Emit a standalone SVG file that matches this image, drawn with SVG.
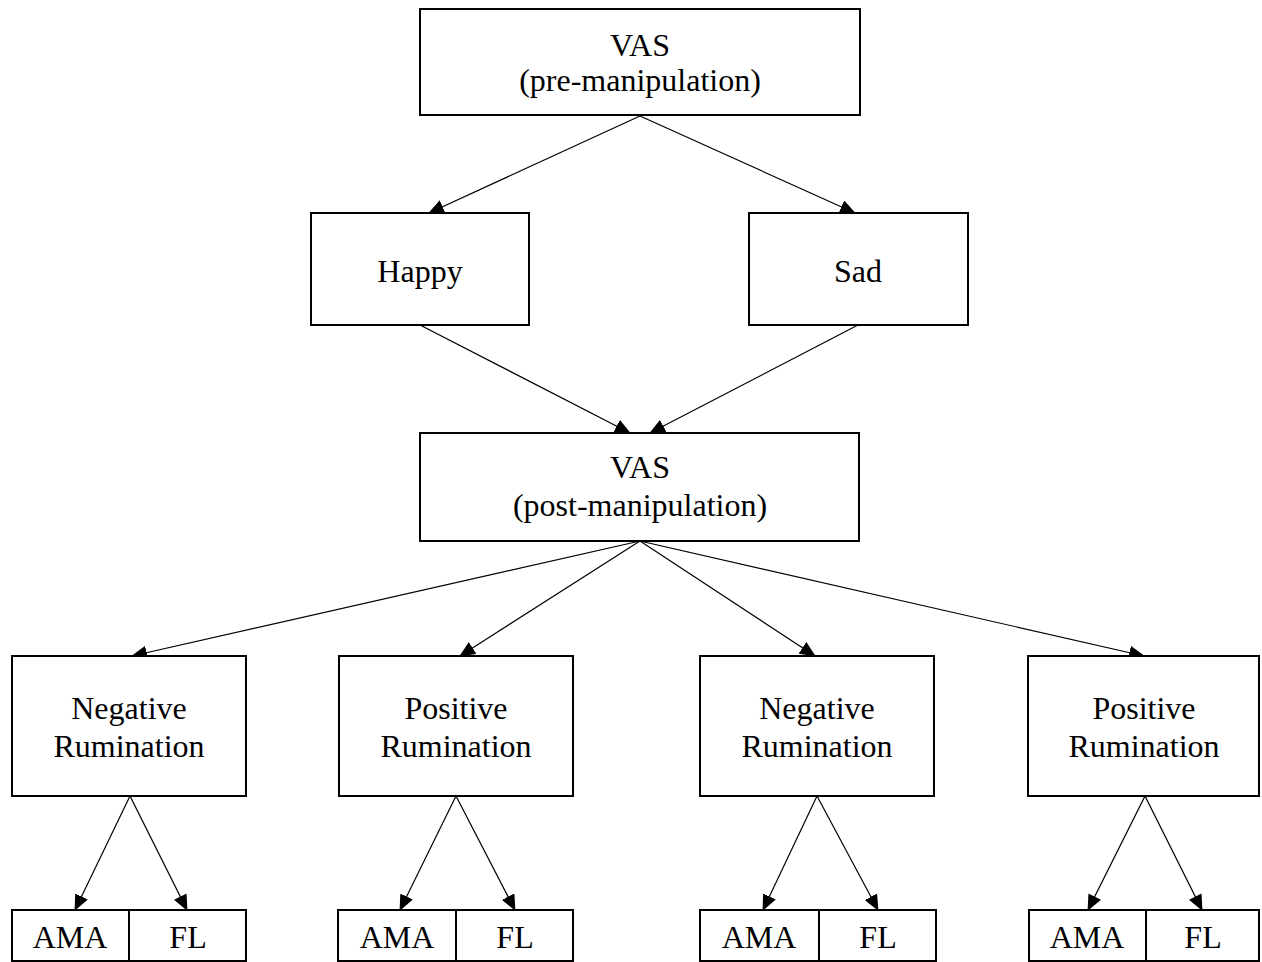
<svg xmlns="http://www.w3.org/2000/svg" width="1262" height="962" viewBox="0 0 1262 962">
<style>
.box{fill:#fff;stroke:#000;stroke-width:2}
.t{font-family:"Liberation Serif","Times New Roman",serif;font-size:32px;fill:#000;text-anchor:middle}
.c{stroke:#000;stroke-width:1.2;fill:none;marker-end:url(#ah)}
</style>
<defs>
<marker id="ah" markerWidth="16" markerHeight="14" refX="15" refY="7" orient="auto" markerUnits="userSpaceOnUse">
<path d="M0,0 L16,7 L0,14 Z" fill="#000"/>
</marker>
</defs>
<rect width="1262" height="962" fill="#fff"/>
<g id="connectors">
<line class="c" x1="640" y1="116" x2="429" y2="213"/>
<line class="c" x1="640" y1="116" x2="855" y2="213"/>
<line class="c" x1="420" y1="325" x2="630" y2="433"/>
<line class="c" x1="858" y1="325" x2="650" y2="433"/>
<line class="c" x1="640" y1="541" x2="132" y2="656"/>
<line class="c" x1="640" y1="541" x2="460" y2="656"/>
<line class="c" x1="640" y1="541" x2="815" y2="656"/>
<line class="c" x1="640" y1="541" x2="1144" y2="656"/>
<line class="c" x1="130" y1="796" x2="75" y2="910"/>
<line class="c" x1="130" y1="796" x2="187" y2="910"/>
<line class="c" x1="456" y1="796" x2="400" y2="910"/>
<line class="c" x1="456" y1="796" x2="515" y2="910"/>
<line class="c" x1="817" y1="796" x2="763" y2="910"/>
<line class="c" x1="817" y1="796" x2="878" y2="910"/>
<line class="c" x1="1145" y1="796" x2="1088" y2="910"/>
<line class="c" x1="1145" y1="796" x2="1202" y2="910"/>
</g>
<g id="vas-pre"><rect class="box" x="420" y="9" width="440" height="106"/><text class="t" x="640" y="56">VAS</text><text class="t" x="640" y="91">(pre-manipulation)</text></g>
<g id="happy"><rect class="box" x="311" y="213" width="218" height="112"/><text class="t" x="420" y="282">Happy</text></g>
<g id="sad"><rect class="box" x="749" y="213" width="219" height="112"/><text class="t" x="858" y="282">Sad</text></g>
<g id="vas-post"><rect class="box" x="420" y="433" width="439" height="108"/><text class="t" x="640" y="478">VAS</text><text class="t" x="640" y="516">(post-manipulation)</text></g>
<g id="neg1"><rect class="box" x="12" y="656" width="234" height="140"/><text class="t" x="129" y="719">Negative</text><text class="t" x="129" y="757">Rumination</text></g>
<g id="pos1"><rect class="box" x="339" y="656" width="234" height="140"/><text class="t" x="456" y="719">Positive</text><text class="t" x="456" y="757">Rumination</text></g>
<g id="neg2"><rect class="box" x="700" y="656" width="234" height="140"/><text class="t" x="817" y="719">Negative</text><text class="t" x="817" y="757">Rumination</text></g>
<g id="pos2"><rect class="box" x="1028" y="656" width="231" height="140"/><text class="t" x="1144" y="719">Positive</text><text class="t" x="1144" y="757">Rumination</text></g>
<g id="ama1"><rect class="box" x="12" y="910" width="117" height="51"/><text class="t" x="70" y="948">AMA</text></g>
<g id="fl1"><rect class="box" x="129" y="910" width="117" height="51"/><text class="t" x="188" y="948">FL</text></g>
<g id="ama2"><rect class="box" x="338" y="910" width="118" height="51"/><text class="t" x="397" y="948">AMA</text></g>
<g id="fl2"><rect class="box" x="456" y="910" width="117" height="51"/><text class="t" x="515" y="948">FL</text></g>
<g id="ama3"><rect class="box" x="700" y="910" width="119" height="51"/><text class="t" x="759" y="948">AMA</text></g>
<g id="fl3"><rect class="box" x="819" y="910" width="117" height="51"/><text class="t" x="878" y="948">FL</text></g>
<g id="ama4"><rect class="box" x="1029" y="910" width="117" height="51"/><text class="t" x="1087" y="948">AMA</text></g>
<g id="fl4"><rect class="box" x="1146" y="910" width="113" height="51"/><text class="t" x="1203" y="948">FL</text></g>
</svg>
